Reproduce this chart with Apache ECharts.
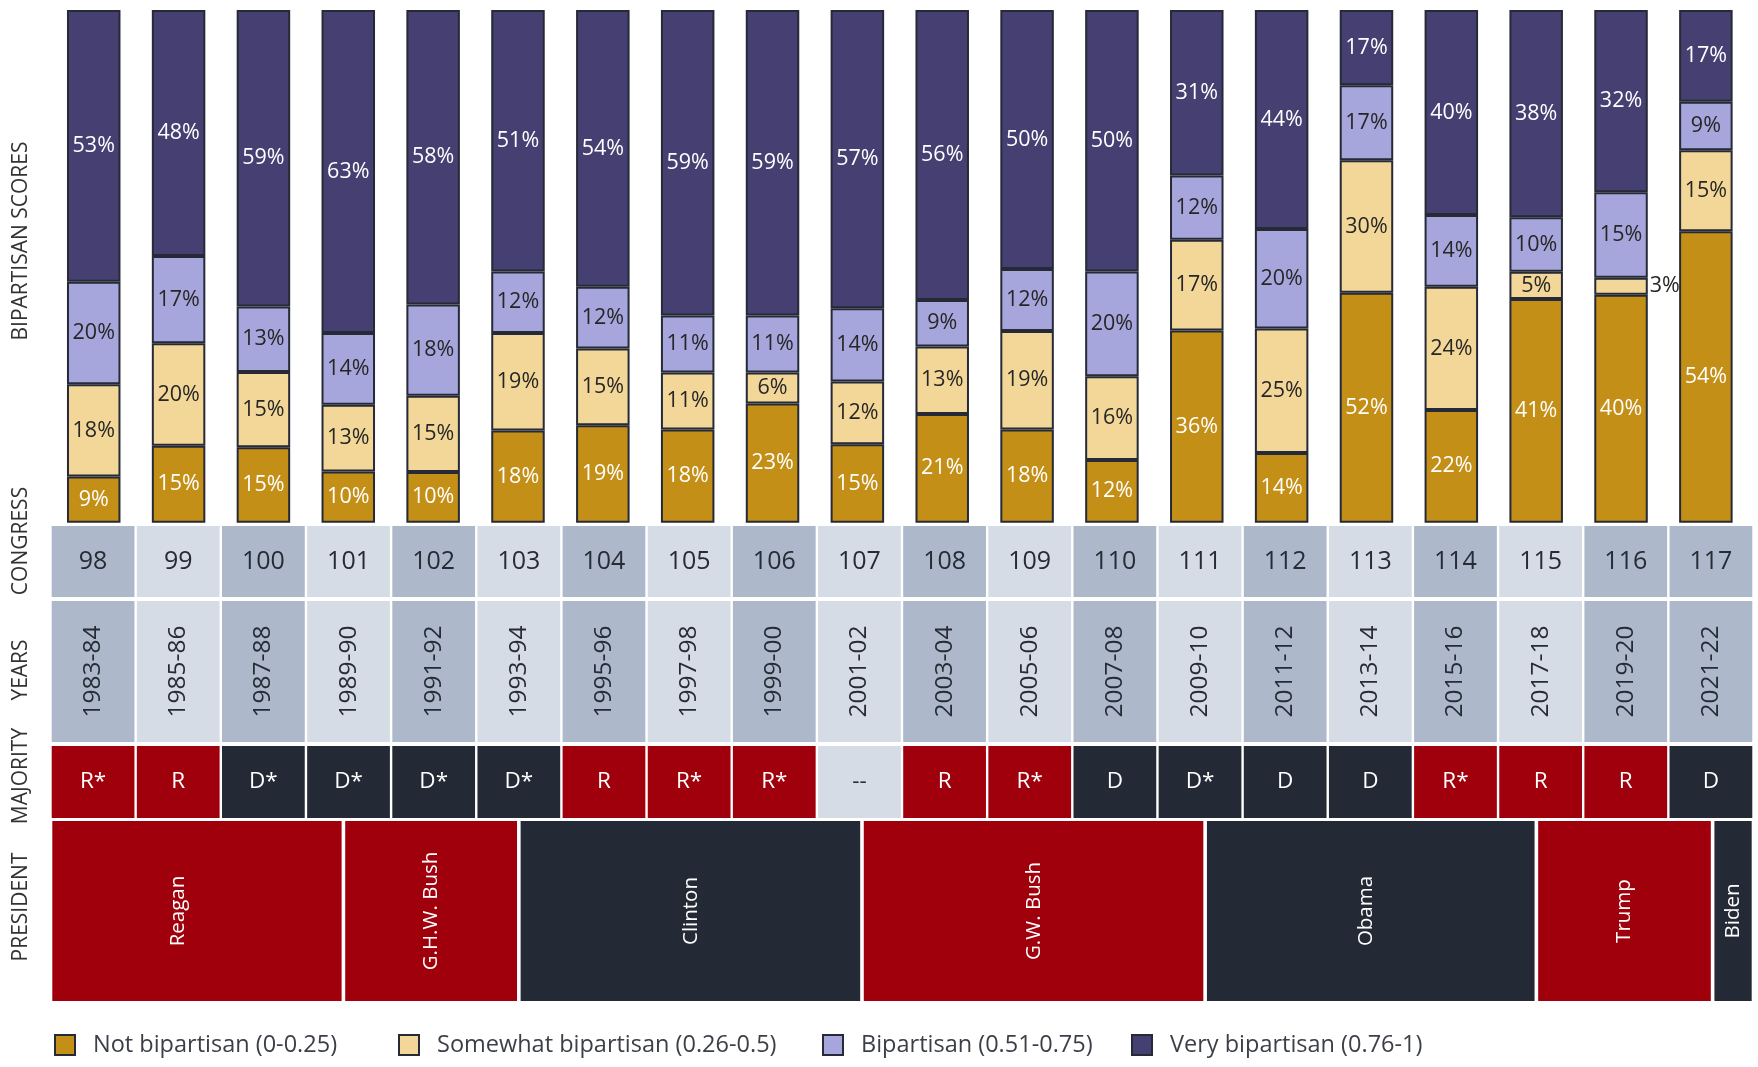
<!DOCTYPE html>
<html>
<head>
<meta charset="utf-8">
<title>Bipartisan scores by Congress</title>
<script src="https://cdn.jsdelivr.net/npm/echarts@6/dist/echarts.min.js"></script>
<style>
  html, body { margin: 0; padding: 0; background: #fff; }
  #chart { width: 1758px; height: 1067px; }
</style>
</head>
<body>
<div id="chart"></div>
<script>
// data
const congresses = ['98', '99', '100', '101', '102', '103', '104', '105', '106', '107',
  '108', '109', '110', '111', '112', '113', '114', '115', '116', '117'];
const years = ['1983-84', '1985-86', '1987-88', '1989-90', '1991-92', '1993-94', '1995-96',
  '1997-98', '1999-00', '2001-02', '2003-04', '2005-06', '2007-08', '2009-10', '2011-12',
  '2013-14', '2015-16', '2017-18', '2019-20', '2021-22'];
const majority = ['R*', 'R', 'D*', 'D*', 'D*', 'D*', 'R', 'R*', 'R*', '--',
  'R', 'R*', 'D', 'D*', 'D', 'D', 'R*', 'R', 'R', 'D'];
// 1 = darker cell shade
const shade = [1, 0, 1, 0, 1, 0, 1, 0, 1, 0, 1, 0, 1, 0, 1, 0, 1, 0, 1, 1];

const notBipartisan = [9, 15, 15, 10, 10, 18, 19, 18, 23, 15, 21, 18, 12, 36, 14, 52, 22, 41, 40, 54];
const somewhatBipartisan = [18, 20, 15, 13, 15, 19, 15, 11, 6, 12, 13, 19, 16, 17, 25, 30, 24, 5, 3, 15];
const bipartisan = [20, 17, 13, 14, 18, 12, 12, 11, 11, 14, 9, 12, 20, 12, 20, 17, 14, 10, 15, 9];
const veryBipartisan = [53, 48, 59, 63, 58, 51, 54, 59, 59, 57, 56, 50, 50, 31, 44, 17, 40, 38, 32, 17];

const seriesNames = ['Not bipartisan (0-0.25)', 'Somewhat bipartisan (0.26-0.5)',
  'Bipartisan (0.51-0.75)', 'Very bipartisan (0.76-1)'];

// presidents, spans in congress units
const presidents = ['Reagan', 'G.H.W. Bush', 'Clinton', 'G.W. Bush', 'Obama', 'Trump', 'Biden'];
const presParty = ['R', 'R', 'D', 'R', 'D', 'R', 'D'];
const presFrom = [0, 3.44, 5.5, 9.53, 13.56, 17.45, 19.52];
const presTo = [3.44, 5.5, 9.53, 13.56, 17.45, 19.52, 20];
const presLabelAt = [1.5, 4.47, 7.52, 11.55, 15.45, 18.48, 19.76];

const FONT = '"Open Sans", "Noto Sans", sans-serif';
const colors = ['#C48F17', '#F3D798', '#A6A6DD', '#463F71'];
const labelColors = ['#ffffff', '#262626', '#262626', '#ffffff'];
const RED = '#A0000B';
const NAVY = '#232935';
const CELL_DARK = '#ADB9CA';
const CELL_LIGHT = '#D6DCE5';

const raw = [notBipartisan, somewhatBipartisan, bipartisan, veryBipartisan];
const totals = congresses.map((c, i) => raw.reduce((s, arr) => s + arr[i], 0));

const chart = echarts.init(document.getElementById('chart'));

// table row grids share the same x extent
const tableLeft = 50.5, tableWidth = 1703;
const rows = [
  { top: 526, height: 71 },   // congress
  { top: 601, height: 141 },  // years
  { top: 746, height: 72 },   // majority
  { top: 821, height: 180 }   // president
];

function cellRow(labels, fillOf, textOf, fontSize, rotate) {
  return function (params, api) {
    const i = params.dataIndex;
    const a = api.coord([i, 1]);
    const b = api.coord([i + 1, 0]);
    return {
      type: 'group',
      children: [
        {
          type: 'rect',
          shape: { x: a[0] + 1.2, y: a[1], width: b[0] - a[0] - 2.4, height: b[1] - a[1] },
          style: { fill: fillOf(i) }
        },
        {
          type: 'text',
          x: (a[0] + b[0]) / 2,
          y: (a[1] + b[1]) / 2,
          rotation: rotate ? Math.PI / 2 : 0,
          style: {
            text: labels[i], fill: textOf(i), fontSize: fontSize, fontFamily: FONT,
            align: 'center', verticalAlign: 'middle'
          }
        }
      ]
    };
  };
}

function presRow(params, api) {
  const i = params.dataIndex;
  const a = api.coord([presFrom[i], 1]);
  const b = api.coord([presTo[i], 0]);
  const c = api.coord([presLabelAt[i], 0.5]);
  return {
    type: 'group',
    children: [
      {
        type: 'rect',
        shape: { x: a[0] + 1.8, y: a[1], width: b[0] - a[0] - 3.6, height: b[1] - a[1] },
        style: { fill: presParty[i] === 'R' ? RED : NAVY }
      },
      {
        type: 'text',
        x: c[0], y: c[1],
        rotation: Math.PI / 2,
        style: {
          text: presidents[i], fill: '#ffffff', fontSize: 20.5, fontFamily: FONT,
          align: 'center', verticalAlign: 'middle'
        }
      }
    ]
  };
}

const partyFill = (m) => m.charAt(0) === 'R' ? RED : (m.charAt(0) === 'D' ? NAVY : CELL_LIGHT);

const barSeries = raw.map((arr, k) => ({
  name: seriesNames[k],
  type: 'bar',
  stack: 'total',
  xAxisIndex: 0,
  yAxisIndex: 0,
  barWidth: 53.5,
  itemStyle: { color: colors[k], borderColor: '#252A36', borderWidth: 2 },
  label: {
    show: true,
    position: 'inside',
    color: labelColors[k],
    fontSize: 21.5,
    fontFamily: FONT,
    formatter: (p) => arr[p.dataIndex] + '%'
  },
  data: arr.map((v, i) => {
    const item = { value: v / totals[i] };
    // thin slice: label sits beside the bar
    if (v / totals[i] < 0.04) {
      item.label = { position: 'right', distance: 2, color: '#262626' };
    }
    return item;
  })
}));

const sideLabels = [
  { text: 'BIPARTISAN SCORES', y: 241 },
  { text: 'CONGRESS', y: 541 },
  { text: 'YEARS', y: 670 },
  { text: 'MAJORITY', y: 776 },
  { text: 'PRESIDENT', y: 907 }
];

const legendLeft = [54, 398, 822, 1131];

const option = {
  animation: false,
  backgroundColor: '#ffffff',
  textStyle: { fontFamily: FONT },
  grid: [
    { left: 51.3, top: 10, width: 1697, height: 512.7 }
  ].concat(rows.map((r) => ({ left: tableLeft, width: tableWidth, top: r.top, height: r.height }))),
  xAxis: [
    { type: 'category', gridIndex: 0, data: congresses, show: false }
  ].concat(rows.map((r, k) => ({ type: 'value', gridIndex: k + 1, min: 0, max: 20, show: false }))),
  yAxis: [
    { type: 'value', gridIndex: 0, min: 0, max: 1, show: false }
  ].concat(rows.map((r, k) => ({ type: 'value', gridIndex: k + 1, min: 0, max: 1, show: false }))),
  legend: seriesNames.map((name, k) => ({
    data: [name],
    left: legendLeft[k],
    top: 1033,
    padding: 0,
    itemWidth: 20,
    itemHeight: 20,
    selectedMode: false,
    icon: 'rect',
    itemStyle: { borderColor: '#252A36', borderWidth: 2 },
    textStyle: { fontSize: 23.5, color: '#3d3f48', fontFamily: FONT, padding: [0, 0, 0, 13] }
  })),
  graphic: sideLabels.map((s) => ({
    type: 'text',
    x: 21,
    y: s.y,
    rotation: Math.PI / 2,
    style: {
      text: s.text, fill: '#333333', fontSize: 21, fontFamily: FONT,
      align: 'center', verticalAlign: 'middle'
    }
  })),
  series: barSeries.concat([
    {
      type: 'custom', xAxisIndex: 1, yAxisIndex: 1, silent: true,
      renderItem: cellRow(congresses, (i) => shade[i] ? CELL_DARK : CELL_LIGHT, () => '#262b36', 25, false),
      data: congresses.map((c, i) => [i, 0])
    },
    {
      type: 'custom', xAxisIndex: 2, yAxisIndex: 2, silent: true,
      renderItem: cellRow(years, (i) => shade[i] ? CELL_DARK : CELL_LIGHT, () => '#262b36', 24.5, true),
      data: years.map((c, i) => [i, 0])
    },
    {
      type: 'custom', xAxisIndex: 3, yAxisIndex: 3, silent: true,
      renderItem: cellRow(majority, (i) => partyFill(majority[i]),
        (i) => majority[i] === '--' ? '#262b36' : '#ffffff', 22.5, false),
      data: majority.map((c, i) => [i, 0])
    },
    {
      type: 'custom', xAxisIndex: 4, yAxisIndex: 4, silent: true,
      renderItem: presRow,
      data: presidents.map((p, i) => [presFrom[i], 0])
    }
  ])
};

chart.setOption(option);
</script>
</body>
</html>
